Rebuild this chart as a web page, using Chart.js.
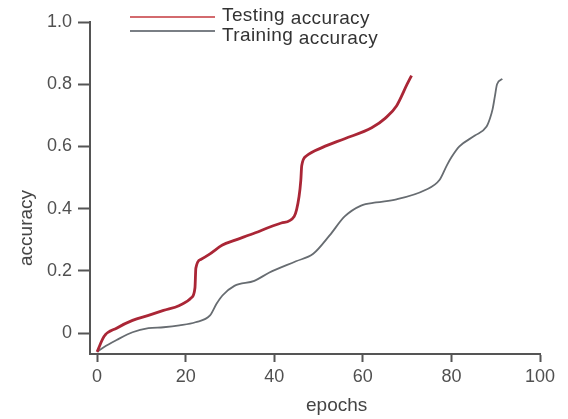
<!DOCTYPE html>
<html>
<head>
<meta charset="utf-8">
<script src="https://cdn.jsdelivr.net/npm/chart.js@4"></script>
<style>
  body { margin: 0; background: #fff; font-family: "Liberation Sans", Arial, sans-serif; }
  #wrap { position: relative; width: 568px; height: 419px; }
  .swatch { position: absolute; left: 130px; width: 85px; height: 0; border-top: 2px solid; }
  .legend-text { position: absolute; left: 222px; font-size: 19px; line-height: 19px; color: #333; white-space: nowrap; letter-spacing: 0.4px; }
  .legend-text span { position: relative; top: 3px; }
  .axis-title { position: absolute; font-size: 19px; line-height: 22px; color: #444; white-space: nowrap; }
</style>
</head>
<body>
<div id="wrap">
  <canvas id="accChart" width="568" height="419"></canvas>
  <div class="swatch" style="top:16px; border-color:#d36a6e"></div>
  <div class="swatch" style="top:30px; border-color:#7a7f85"></div>
  <div class="legend-text" style="top:5px">Testing <span>accuracy</span></div>
  <div class="legend-text" style="top:25px">Training <span>accuracy</span></div>
  <div class="axis-title" style="left:306px; top:394px">epochs</div>
  <div class="axis-title" style="left:-12px; top:217px; transform: rotate(-90deg)">accuracy</div>
</div>
<script>
// values
const testEpochs = [0, 1.6, 4.4, 8, 11.6, 15, 18.6, 21.3, 22.1, 22.3, 23.4, 25.5, 28.3, 31, 34.7, 41.6, 44.5, 45.6, 46, 46.2, 47.3, 50.9, 55.9, 62, 65.1, 67.6, 70, 71];
const testAcc = [-0.06, -0.01, 0.016, 0.041, 0.057, 0.073, 0.089, 0.114, 0.146, 0.209, 0.237, 0.255, 0.283, 0.298, 0.317, 0.354, 0.375, 0.439, 0.492, 0.538, 0.57, 0.597, 0.625, 0.66, 0.691, 0.73, 0.8, 0.828];

const trainEpochs = [0, 1.5, 4.4, 8, 11.6, 15, 18.6, 22.2, 25.5, 27, 28.3, 31, 35.5, 38.8, 44.9, 48.8, 52.5, 55.9, 59.6, 63, 67.6, 74.1, 77.3, 79, 80, 81.8, 85.3, 87.9, 88.7, 89.3, 89.8, 90.3, 91.5];
const trainAcc = [-0.06, -0.045, -0.022, 0.003, 0.016, 0.019, 0.025, 0.035, 0.057, 0.095, 0.121, 0.152, 0.168, 0.194, 0.231, 0.255, 0.314, 0.375, 0.41, 0.42, 0.43, 0.46, 0.492, 0.54, 0.565, 0.6, 0.635, 0.663, 0.69, 0.72, 0.76, 0.8, 0.817];

const xTicks = [0, 20, 40, 60, 80, 100];
const yTicks = [0, 0.2, 0.4, 0.6, 0.8, 1.0];

const toPoints = (xs, ys) => xs.map((x, i) => ({ x: x, y: ys[i] }));

document.addEventListener("DOMContentLoaded", () => {
    const ctx = document.getElementById("accChart").getContext("2d");
    const axisFont = { family: "'Liberation Sans', Arial, sans-serif", size: 18 };

    new Chart(ctx, {
        type: 'line',
        data: {
            datasets: [{
                label: 'Testing accuracy',
                data: toPoints(testEpochs, testAcc),
                borderColor: '#aa2636',
                borderWidth: 2.8,
                pointRadius: 0,
                cubicInterpolationMode: 'monotone'
            }, {
                label: 'Training accuracy',
                data: toPoints(trainEpochs, trainAcc),
                borderColor: '#676c71',
                borderWidth: 1.8,
                pointRadius: 0,
                cubicInterpolationMode: 'monotone'
            }]
        },
        options: {
            responsive: false,
            animation: false,
            layout: { padding: { left: 0, right: 28, top: 22, bottom: 0 } },
            plugins: {
                legend: { display: false },
                tooltip: { enabled: false }
            },
            scales: {
                x: {
                    type: 'linear',
                    min: -1.6,
                    max: 100,
                    afterBuildTicks: s => { s.ticks = xTicks.map(v => ({ value: v })); },
                    afterFit: s => { s.height = 65; },
                    grid: { drawOnChartArea: false, tickLength: 8, tickWidth: 2, tickColor: '#555' },
                    border: { color: '#555', width: 2 },
                    ticks: { font: axisFont, color: '#505050', padding: 4, maxRotation: 0 }
                },
                y: {
                    min: -0.067,
                    max: 1.0,
                    afterBuildTicks: s => { s.ticks = yTicks.map(v => ({ value: v })); },
                    afterFit: s => { s.width = 90; },
                    grid: { drawOnChartArea: false, tickLength: 12, tickWidth: 2, tickColor: '#555' },
                    border: { color: '#555', width: 2 },
                    ticks: {
                        font: axisFont,
                        color: '#505050',
                        padding: 6,
                        callback: v => v === 0 ? '0' : v.toFixed(1)
                    }
                }
            }
        }
    });
});
</script>
</body>
</html>
